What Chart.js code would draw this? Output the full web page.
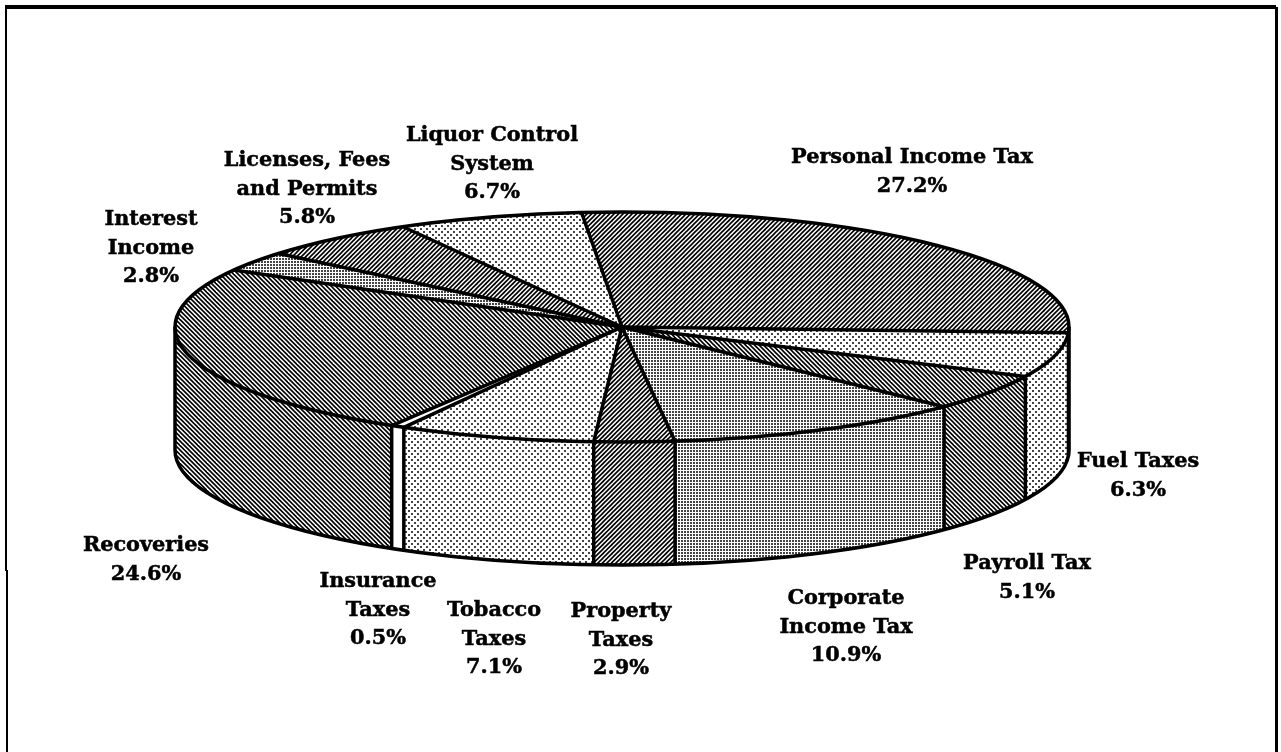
<!DOCTYPE html>
<html>
<head>
<meta charset="utf-8">
<title>Revenue sources</title>
<script src="https://cdn.jsdelivr.net/npm/chart.js@4/dist/chart.umd.min.js"></script>
<style>
  html, body { margin: 0; padding: 0; background: #fff; }
  canvas { display: block; }
</style>
</head>
<body>
<canvas id="myChart" width="1281" height="752"></canvas>
<script>
// clockwise, starting from the top of the pie
const categories = ['Personal Income Tax', 'Fuel Taxes', 'Payroll Tax', 'Corporate Income Tax', 'Property Taxes',
  'Tobacco Taxes', 'Insurance Taxes', 'Recoveries', 'Interest Income', 'Licenses, Fees and Permits', 'Liquor Control System']
const shares = [27.2, 6.3, 5.1, 10.9, 2.9, 7.1, 0.5, 24.6, 2.8, 5.8, 6.7]
const labelLines = [['Personal Income Tax'], ['Fuel Taxes'], ['Payroll Tax'], ['Corporate', 'Income Tax'], ['Property', 'Taxes'],
  ['Tobacco', 'Taxes'], ['Insurance', 'Taxes'], ['Recoveries'], ['Interest', 'Income'], ['Licenses, Fees', 'and Permits'], ['Liquor Control', 'System']]

// layout, kept apart from the data
const labelSpots = [[912, 158], [1138, 462], [1027, 564], [846, 599], [621, 612],
  [494, 611], [378, 582], [146, 546], [151, 220], [307, 161], [492, 136]]
const lineGap = 28.5
const cx = 622, cy = 327, rx = 447, ry = 115, depth = 123
const squash = ry / rx

function tile(size, paint) {
  const c = document.createElement('canvas')
  c.width = c.height = size
  const g = c.getContext('2d')
  g.fillStyle = '#fff'
  g.fillRect(0, 0, size, size)
  paint(g)
  const pattern = g.createPattern(c, 'repeat')
  // the pie is drawn squashed, undo that for the fill so the tiles stay square
  pattern.setTransform(new DOMMatrix().scale(1, 1 / squash).translate(0, -cy * (1 - squash)))
  return pattern
}
function hatch(up) {
  // two stripes per tile, 4.5px apart
  return tile(9, g => {
    g.strokeStyle = '#000'
    g.lineWidth = 1.6
    for (let i = -9; i <= 18; i += 4.5) {
      g.beginPath()
      if (up) { g.moveTo(i - 1, 10); g.lineTo(i + 10, -1) } else { g.moveTo(i - 1, -1); g.lineTo(i + 10, 10) }
      g.stroke()
    }
  })
}
const lightDots = tile(6, g => {
  g.fillStyle = '#444'
  g.fillRect(0, 0, 2, 2)
  g.fillRect(3, 3, 2, 2)
})
const denseDots = tile(3, g => {
  g.fillStyle = '#444'
  g.fillRect(0, 0, 2, 2)
})
const hatchUp = hatch(true), hatchDown = hatch(false)
const fills = [hatchUp, lightDots, hatchDown, denseDots, hatchUp, lightDots, '#fff', hatchDown, denseDots, hatchUp, lightDots]

const pie3d = {
  id: 'pie3d',
  beforeDraw(chart) {
    // page frame, the scan's left edge jogs a little near the bottom
    const ctx = chart.ctx
    ctx.fillStyle = '#000'
    ctx.fillRect(5, 5, 1271, 4)
    ctx.fillRect(5, 5, 2, 566)
    ctx.fillRect(6, 570, 2, 182)
    ctx.fillRect(1275, 7, 3, 745)
  },
  beforeDatasetsDraw(chart) {
    const ctx = chart.ctx
    const arcs = chart.getDatasetMeta(0).data
    ctx.save()
    ctx.translate(0, cy)
    ctx.scale(1, squash)
    ctx.translate(0, -cy)
    // side wall, only the front half of the rim shows
    arcs.forEach(arc => {
      const lo = Math.max(arc.startAngle, 0), hi = Math.min(arc.endAngle, Math.PI)
      if (lo >= hi) return
      ctx.beginPath()
      ctx.arc(arc.x, arc.y, arc.outerRadius, lo, hi)
      ctx.arc(arc.x, arc.y + depth / squash, arc.outerRadius, hi, lo, true)
      ctx.closePath()
      ctx.fillStyle = arc.options.backgroundColor
      ctx.fill()
    })
    // left squashed for the slices, restored in afterDatasetsDraw
  },
  afterDatasetsDraw(chart) {
    const ctx = chart.ctx
    ctx.restore()
    const arcs = chart.getDatasetMeta(0).data
    ctx.save()
    ctx.strokeStyle = '#000'
    ctx.lineWidth = 3.5
    ctx.lineJoin = 'round'
    arcs.forEach(arc => {
      const px = cx + rx * Math.cos(arc.startAngle)
      const py = cy + ry * Math.sin(arc.startAngle)
      ctx.beginPath()
      ctx.moveTo(cx, cy)
      ctx.lineTo(px, py)
      if (Math.sin(arc.startAngle) > 0) {
        ctx.lineTo(px, py + depth)
      }
      ctx.stroke()
    })
    ctx.beginPath()
    ctx.ellipse(cx, cy, rx, ry, 0, 0, Math.PI * 2)
    ctx.stroke()
    ctx.beginPath()
    ctx.moveTo(cx + rx, cy)
    ctx.lineTo(cx + rx, cy + depth)
    ctx.ellipse(cx, cy + depth, rx, ry, 0, 0, Math.PI)
    ctx.lineTo(cx - rx, cy)
    ctx.stroke()
    ctx.restore()
  },
  afterDraw(chart) {
    const ctx = chart.ctx
    ctx.save()
    ctx.fillStyle = '#000'
    ctx.strokeStyle = '#000'
    ctx.lineWidth = 0.5
    ctx.font = 'bold 20.8px "DejaVu Serif"'
    ctx.textAlign = 'center'
    ctx.textBaseline = 'middle'
    labelLines.forEach((lines, i) => {
      const [x, y] = labelSpots[i]
      lines.concat(shares[i].toFixed(1) + '%').forEach((text, n) => {
        ctx.fillText(text, x, y + n * lineGap)
        ctx.strokeText(text, x, y + n * lineGap)
      })
    })
    ctx.restore()
  }
}

const myChart = new Chart(document.getElementById('myChart'), {
  type: 'pie',
  data: {
    labels: categories,
    datasets: [{ data: shares, backgroundColor: fills, borderWidth: 0, clip: false }]
  },
  options: {
    responsive: false,
    animation: false,
    rotation: -5.2,
    radius: rx,
    layout: { padding: { right: 1281 - 2 * cx, bottom: 752 - 2 * cy } },
    plugins: { legend: { display: false }, tooltip: { enabled: false } },
    events: []
  },
  plugins: [pie3d]
})
</script>
</body>
</html>
